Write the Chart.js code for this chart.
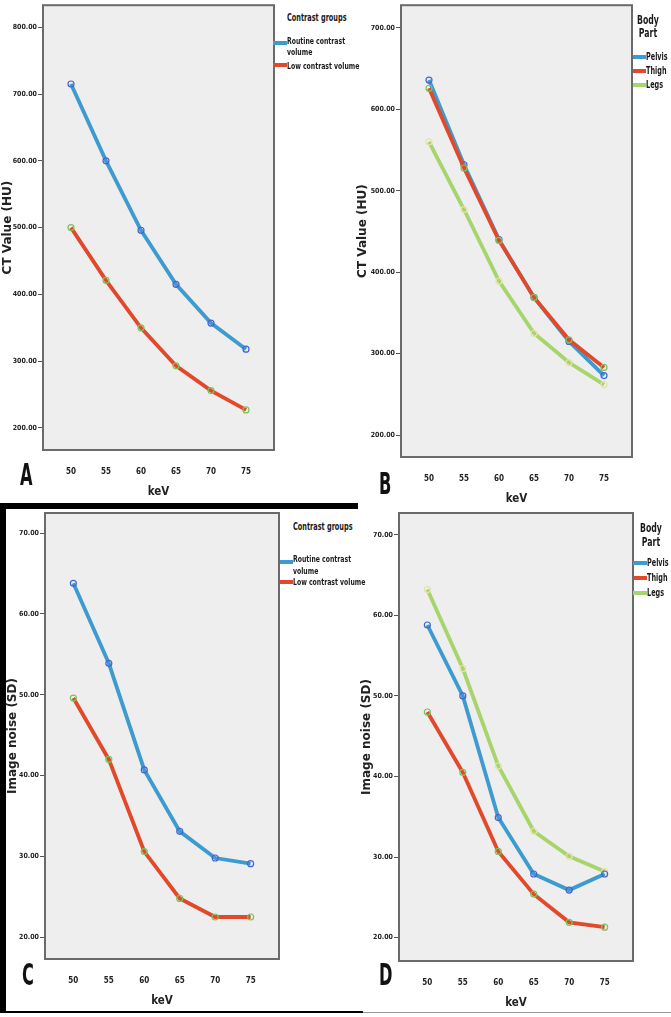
<!DOCTYPE html>
<html>
<head>
<meta charset="utf-8">
<script src="https://cdn.jsdelivr.net/npm/chart.js@4/dist/chart.umd.min.js"></script>
<style>
  body { margin: 0; background: #fff; }
  #page { position: relative; width: 671px; height: 1017px; overflow: hidden; background: #fff; }
  canvas { position: absolute; }
  .txt { position: absolute; white-space: nowrap; color: #1a1a1a; font-family: 'DejaVu Sans Condensed', 'DejaVu Sans', sans-serif; transform-origin: 0 50%; }
  .letter { position: absolute; font-family: 'DejaVu Sans Condensed', 'DejaVu Sans', sans-serif; font-weight: bold; font-size: 30px; line-height: 30px; color: #111; transform: scaleX(0.6); transform-origin: 0 0; }
  .bar { position: absolute; background: #000; }
</style>
</head>
<body>
<div id="page">
  <div class="bar" style="left:0;top:503px;width:358px;height:6px"></div>
  <div class="bar" style="left:0;top:503px;width:6px;height:510px"></div>
  <div class="bar" style="left:0;top:1011px;width:363px;height:2px"></div>
  <div class="bar" style="left:363px;top:1012px;width:308px;height:1px;background:#999"></div>

  <canvas id="chartA" width="280" height="500" style="left:0;top:0"></canvas>
  <canvas id="chartB" width="283" height="507" style="left:355px;top:0"></canvas>
  <canvas id="chartC" width="280" height="504" style="left:5px;top:505px"></canvas>
  <canvas id="chartD" width="280" height="506" style="left:359px;top:505px"></canvas>

  <div class="letter" style="left:20px;top:460px">A</div>
  <div class="letter" style="left:379px;top:469px">B</div>
  <div class="letter" style="left:22px;top:960px">C</div>
  <div class="letter" style="left:379px;top:960px">D</div>
</div>
<script>
// keV levels on the x axis
const kev = [50, 55, 60, 65, 70, 75];

// A: CT value by contrast group
const groupNames = ['Routine contrast volume', 'Low contrast volume'];
const ctRoutine = [715, 600, 496, 415, 357, 318];
const ctLow = [500, 421, 350, 293, 256, 227];

// B: CT value by body part
const partNames = ['Pelvis', 'Thigh', 'Legs'];
const ctPelvis = [636, 532, 440, 369, 315, 273];
const ctThigh = [626, 528, 439, 369, 317, 283];
const ctLegs = [560, 477, 389, 325, 289, 262];

// C: image noise by contrast group
const noiseRoutine = [63.8, 53.9, 40.7, 33.1, 29.8, 29.1];
const noiseLow = [49.6, 42.0, 30.6, 24.8, 22.5, 22.5];

// D: image noise by body part
const noisePelvis = [58.8, 50.0, 34.9, 27.9, 25.9, 27.9];
const noiseThigh = [48.0, 40.5, 30.7, 25.4, 21.9, 21.3];
const noiseLegs = [63.2, 53.4, 41.3, 33.2, 30.1, 28.2];

// tick labels
const ctTicksA = [200, 300, 400, 500, 600, 700, 800];
const ctTicksB = [200, 300, 400, 500, 600, 700];
const noiseTicks = [20, 30, 40, 50, 60, 70];

const BLUE = '#3d9bcf', RED = '#e2492b', GREEN = '#a7d46c';
const COND = "'DejaVu Sans Condensed', 'DejaVu Sans', sans-serif";

const plotBox = {
  id: 'plotBox',
  beforeDraw(chart) {
    const a = chart.chartArea, ctx = chart.ctx;
    ctx.save();
    ctx.fillStyle = '#eeeeee';
    ctx.fillRect(a.left, a.top, a.right - a.left, a.bottom - a.top);
    ctx.restore();
  },
  afterDraw(chart) {
    const a = chart.chartArea, ctx = chart.ctx;
    ctx.save();
    ctx.strokeStyle = '#6a6a6a';
    ctx.lineWidth = 2;
    ctx.strokeRect(a.left, a.top, a.right - a.left, a.bottom - a.top);
    ctx.restore();
  }
};

function series(label, values, color, pointColor, order) {
  return {
    label: label,
    data: kev.map((k, i) => ({ x: k, y: values[i] })),
    borderColor: color,
    borderWidth: 3.8,
    pointRadius: 3,
    pointBorderWidth: 1.2,
    pointBorderColor: pointColor,
    pointBackgroundColor: 'rgba(0,0,0,0)',
    tension: 0,
    order: order
  };
}

function makeChart(id, datasets, yMin, yMax, yTicks, yTitle, axisWidth, padTop) {
  new Chart(document.getElementById(id), {
    type: 'line',
    data: { datasets: datasets },
    plugins: [plotBox],
    options: {
      responsive: false,
      animation: false,
      layout: { padding: { left: 0, top: padTop, right: 6, bottom: 0 } },
      plugins: { legend: { display: false }, tooltip: { enabled: false } },
      scales: {
        x: {
          type: 'linear',
          min: 46,
          max: 79,
          afterBuildTicks: s => { s.ticks = kev.map(v => ({ value: v })); },
          afterFit: s => { s.height = 50; },
          grid: { display: false },
          border: { display: false },
          ticks: { color: '#222', padding: 9, font: { family: COND, size: 8, weight: 'bold' } },
          title: {
            display: true, text: 'keV', color: '#222',
            padding: { top: 0, bottom: 1 },
            font: { family: COND, size: 11.5, weight: 'bold' }
          }
        },
        y: {
          type: 'linear',
          min: yMin,
          max: yMax,
          afterBuildTicks: s => { s.ticks = yTicks.map(v => ({ value: v })); },
          afterFit: s => { s.width = axisWidth; },
          grid: { drawOnChartArea: false, drawTicks: true, tickLength: 5, color: '#555' },
          border: { display: false },
          ticks: {
            color: '#222', padding: 1,
            font: { family: COND, size: 7, weight: 'bold' },
            callback: v => Number(v).toFixed(2)
          },
          title: {
            display: true, text: yTitle, color: '#222',
            padding: { top: 1, bottom: 0 },
            font: { family: "'DejaVu Sans', sans-serif", size: 12, weight: 'bold' }
          }
        }
      }
    }
  });
}

makeChart('chartA', [
  series(groupNames[0], ctRoutine, BLUE, '#4a62cf', 1),
  series(groupNames[1], ctLow, RED, '#79c45a', 0)
], 167, 833, ctTicksA, 'CT Value (HU)', 43, 3);

makeChart('chartB', [
  series(partNames[0], ctPelvis, BLUE, '#4a62cf', 1),
  series(partNames[1], ctThigh, RED, '#79c45a', 0),
  series(partNames[2], ctLegs, GREEN, '#e6e2a8', 2)
], 173, 728, ctTicksB, 'CT Value (HU)', 46, 4);

makeChart('chartC', [
  series(groupNames[0], noiseRoutine, BLUE, '#4a62cf', 1),
  series(groupNames[1], noiseLow, RED, '#79c45a', 0)
], 17.3, 72.5, noiseTicks, 'Image noise (SD)', 40, 8);

makeChart('chartD', [
  series(partNames[0], noisePelvis, BLUE, '#4a62cf', 1),
  series(partNames[1], noiseThigh, RED, '#79c45a', 0),
  series(partNames[2], noiseLegs, GREEN, '#e6e2a8', 2)
], 17.1, 72.7, noiseTicks, 'Image noise (SD)', 40, 8);

// legends drawn as text next to each plot
const page = document.getElementById('page');
function text(str, left, cy, size, sx, center) {
  const d = document.createElement('div');
  d.className = 'txt';
  d.textContent = str;
  d.style.fontSize = size + 'px';
  d.style.lineHeight = (size + 2) + 'px';
  d.style.top = (cy - (size + 2) / 2) + 'px';
  d.style.fontWeight = 'bold';
  if (center) {
    d.style.left = (left - 40) + 'px';
    d.style.width = '80px';
    d.style.textAlign = 'center';
    d.style.transformOrigin = '50% 50%';
  } else {
    d.style.left = left + 'px';
  }
  d.style.transform = 'scaleX(' + sx + ')';
  page.appendChild(d);
}
function swatch(color, left, cy, w) {
  const d = document.createElement('div');
  d.style.cssText = 'position:absolute;height:4px;background:' + color +
    ';left:' + left + 'px;top:' + (cy - 2) + 'px;width:' + w + 'px';
  page.appendChild(d);
}

// A legend
text('Contrast groups', 287, 17, 11, 0.66);
swatch(BLUE, 273, 43, 14);
text('Routine contrast', 287, 41, 9.5, 0.72);
text('volume', 287, 52, 9.5, 0.72);
swatch(RED, 273, 65, 14);
text(groupNames[1], 287, 66, 9.5, 0.72);

// C legend
text('Contrast groups', 293, 526, 11, 0.66);
swatch(BLUE, 280, 562, 13);
text('Routine contrast', 293, 559, 9.5, 0.72);
text('volume', 293, 571, 9.5, 0.72);
swatch(RED, 280, 582, 13);
text(groupNames[1], 293, 582, 9.5, 0.72);

// B legend
text('Body', 648, 20, 12, 0.72, true);
text('Part', 648, 33, 12, 0.72, true);
[57, 71, 85].forEach((y, i) => {
  swatch([BLUE, RED, GREEN][i], 633, y, 13);
  text(partNames[i], 646, y, 10, 0.72);
});

// D legend
text('Body', 651, 528, 12, 0.72, true);
text('Part', 651, 542, 12, 0.72, true);
[563, 578, 593].forEach((y, i) => {
  swatch([BLUE, RED, GREEN][i], 633, y, 14);
  text(partNames[i], 647, y, 10, 0.72);
});
</script>
</body>
</html>
